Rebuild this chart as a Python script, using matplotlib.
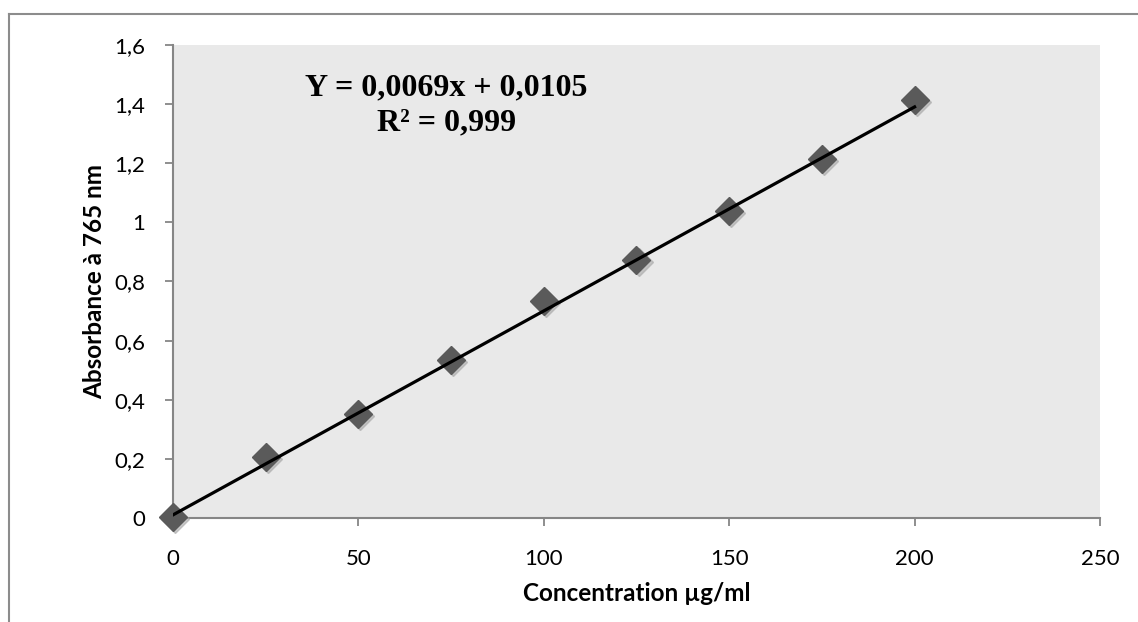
import numpy as np
import matplotlib.pyplot as plt
from matplotlib.lines import Line2D
from matplotlib.transforms import ScaledTranslation

# calibration data
concentration = [0, 25, 50, 75, 100, 125, 150, 175, 200]
absorbance = [0.005, 0.205, 0.352, 0.535, 0.735, 0.873, 1.040, 1.215, 1.415]
slope = 0.0069
intercept = 0.0105
x_ticks = [0, 50, 100, 150, 200, 250]
y_ticks = [0, 0.2, 0.4, 0.6, 0.8, 1.0, 1.2, 1.4, 1.6]
y_tick_labels = ['0', '0,2', '0,4', '0,6', '0,8', '1', '1,2', '1,4', '1,6']

plt.rcParams['font.family'] = ['Lato', 'DejaVu Sans']

fig = plt.figure(figsize=(11.38, 6.22), dpi=100)
ax = fig.add_axes([0.152, 0.1672, 0.8146, 0.7605])

# outer chart frame (top and left edges visible)
frame_col = '#8c8c8c'
fig.add_artist(Line2D([0.008, 1.0], [0.978, 0.978], color=frame_col, lw=1.5))
fig.add_artist(Line2D([0.008, 0.008], [0.0, 0.978], color=frame_col, lw=1.5))

ax.set_facecolor('#e9e9e9')

# soft marker shadow then markers
shadow = ax.transData + ScaledTranslation(1.5 / 72, -1.5 / 72, fig.dpi_scale_trans)
ax.plot(concentration, absorbance, linestyle='none', marker='D', ms=14.5,
        color='#a8a8a8', alpha=0.6, zorder=4, transform=shadow, clip_on=False)
ax.plot(concentration, absorbance, linestyle='none', marker='D', ms=14,
        color='#5a5a5a', zorder=5, clip_on=False)

xs = np.array([concentration[0], concentration[-1]])
ax.plot(xs, slope * xs + intercept, color='black', lw=2.3, zorder=6)

ax.set_xlim(0, 250)
ax.set_ylim(0, 1.6)
ax.set_xticks(x_ticks)
ax.set_yticks(y_ticks)
ax.set_yticklabels(y_tick_labels)

for s in ['top', 'right']:
    ax.spines[s].set_visible(False)
for s in ['left', 'bottom']:
    ax.spines[s].set_color('#868686')
    ax.spines[s].set_linewidth(1.5)
ax.tick_params(direction='out', length=6, width=1.3, color='#868686',
               labelsize=16)
ax.tick_params(axis='x', pad=16)
ax.tick_params(axis='y', pad=14)

ax.set_xlabel('Concentration µg/ml', fontsize=17.5, fontweight='bold', labelpad=10)
ax.set_ylabel('Absorbance à 765 nm', fontsize=17.5, fontweight='bold', labelpad=6)

ax.text(0.295, 0.872, 'Y = 0,0069x + 0,0105\nR² = 0,999', transform=ax.transAxes,
        ha='center', va='center', fontsize=23, fontweight='bold',
        family='Liberation Serif', linespacing=1.3)

fig.savefig('out.png', dpi=100)
